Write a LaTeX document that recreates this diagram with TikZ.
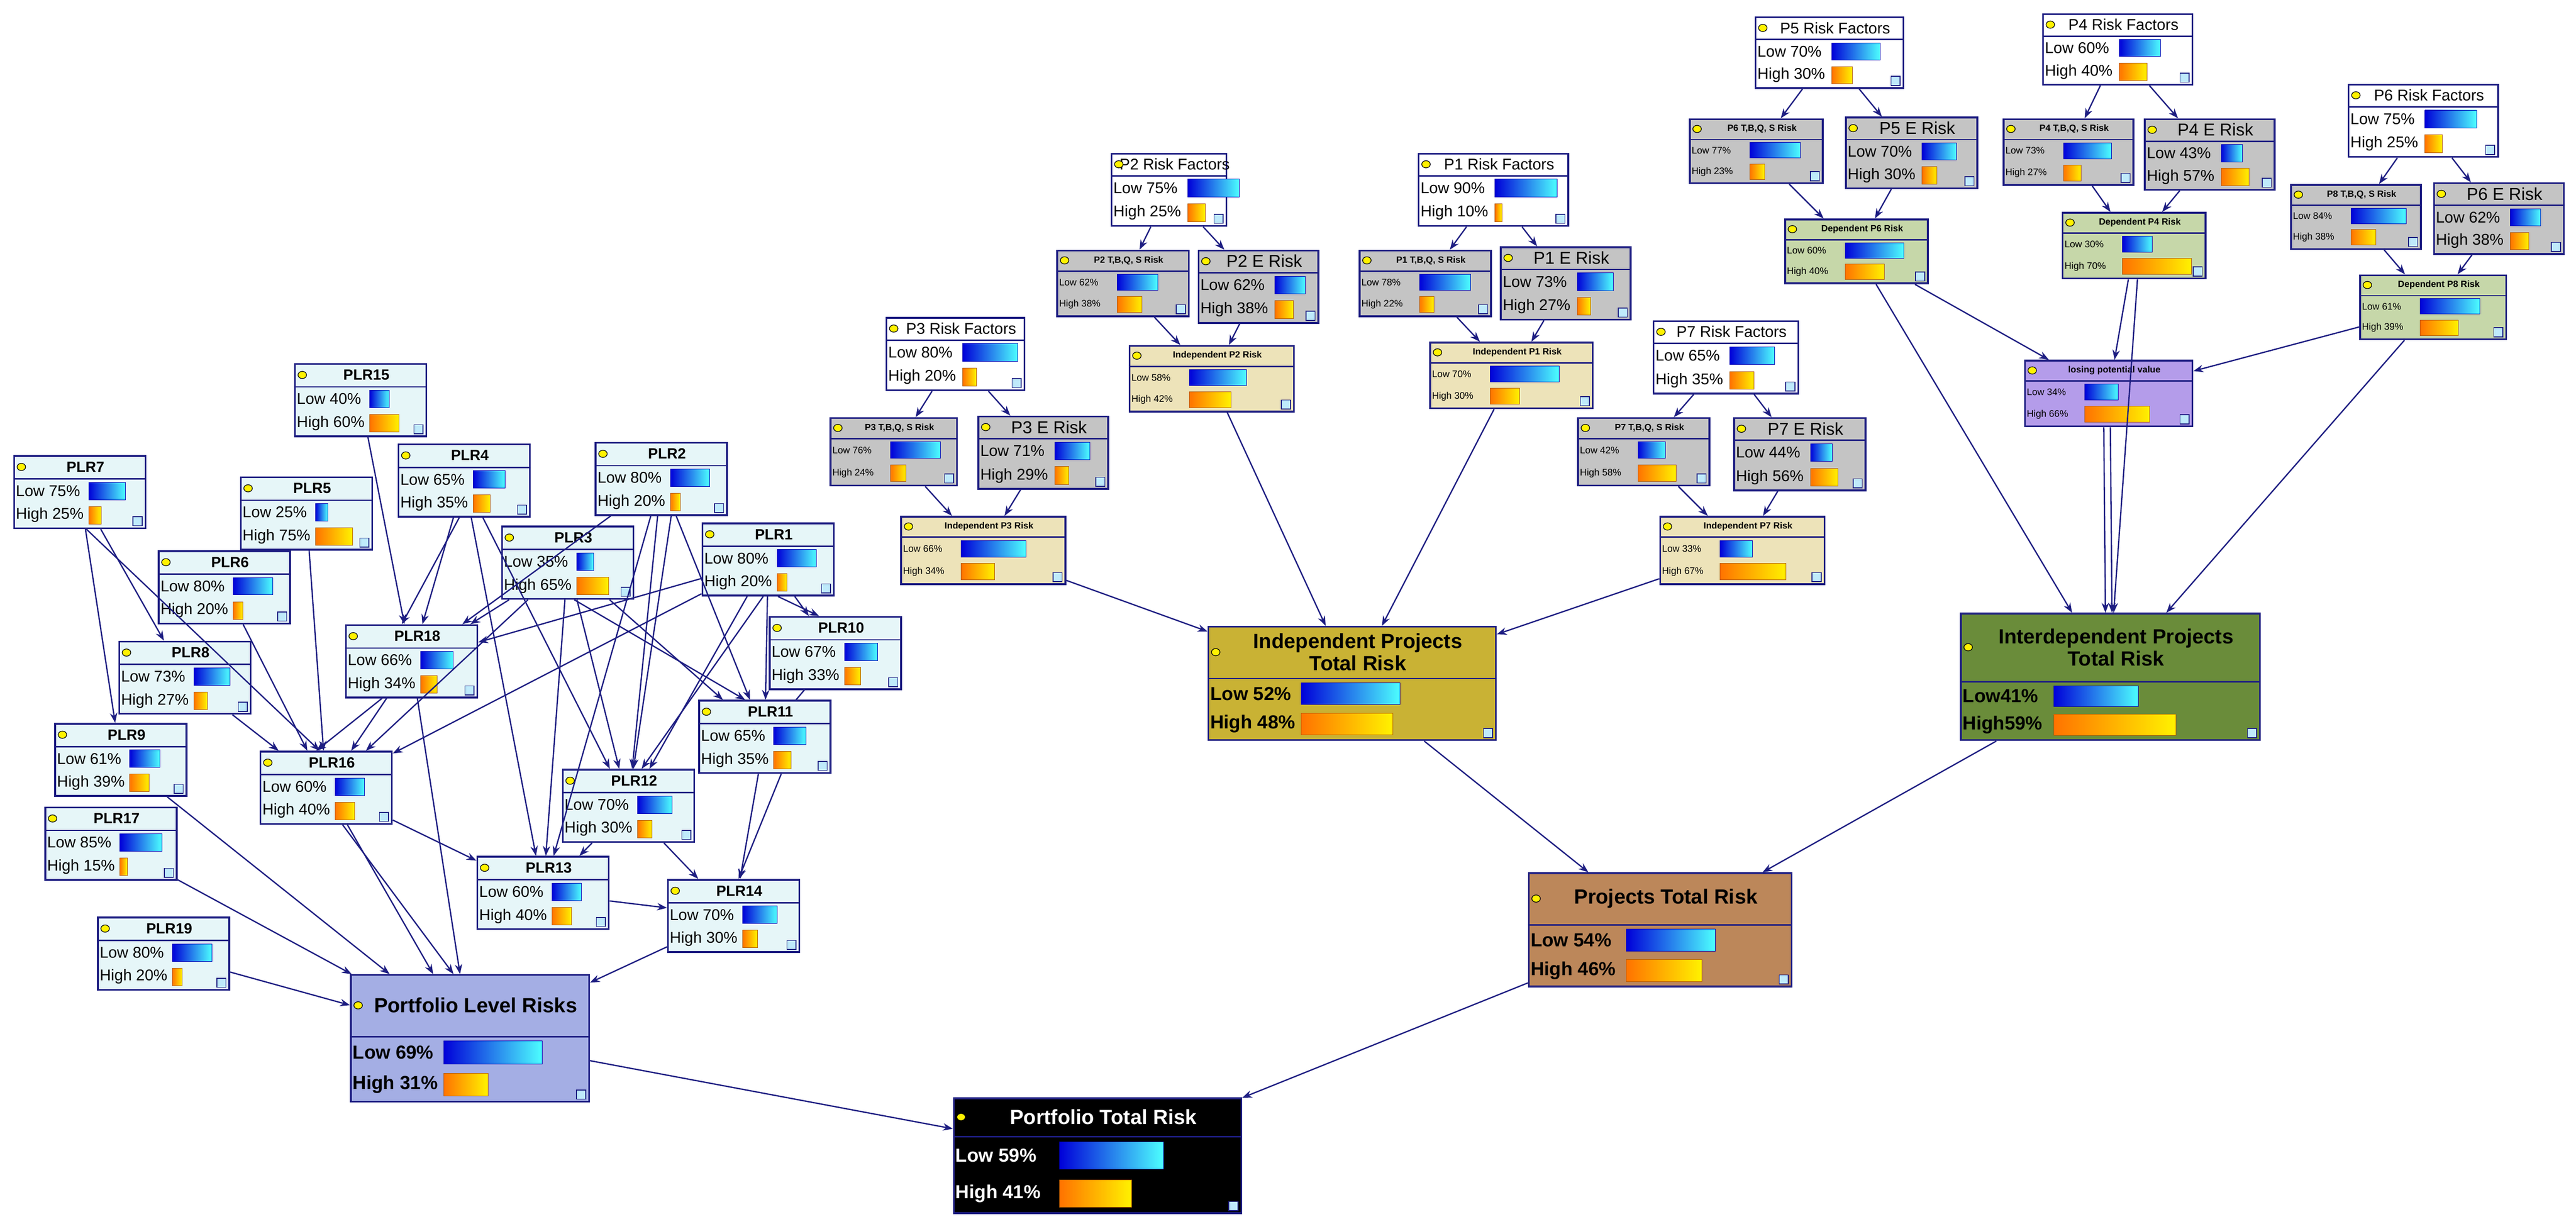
\documentclass[tikz,border=0pt]{standalone}
\usepackage{fontspec}
\setmainfont{Liberation Sans}
\usetikzlibrary{arrows.meta}
\definecolor{nv}{HTML}{1E1E82}
\definecolor{plrc}{HTML}{E6F6F8}
\definecolor{grc}{HTML}{C4C4C4}
\definecolor{bgc}{HTML}{EDE3B9}
\definecolor{dgc}{HTML}{C6D7A9}
\definecolor{puc}{HTML}{B49CEA}
\definecolor{plrb}{HTML}{A4AEE4}
\definecolor{goldc}{HTML}{C9B234}
\definecolor{grnc}{HTML}{6A8C3A}
\definecolor{brc}{HTML}{BC875A}
\tikzset{
 box/.style={draw=nv,line width=1.1pt,rectangle,inner sep=0pt},
 sep/.style={draw=nv,line width=0.9pt},
 arr/.style={draw=nv,line width=0.8pt,-{Stealth[length=6pt,width=4.5pt]}},
 ln/.style={draw=nv,line width=0.8pt},
 bbar/.style={left color=blue!85!black,right color=cyan!70!white,draw=blue!70!black,line width=0.3pt},
 obar/.style={left color=orange!90!red,right color=yellow!90!orange,draw=orange!70!black,line width=0.3pt}
}
\def\tc{black}\def\lo{Low }\def\hi{High }
\newcommand\setp[5]{\def\th{#1}\def\tf{#2}\def\lf{#3}\def\lw{#4}\def\bm{#5}}
\newcommand\plr{\setp{14.5}{\fontsize{9}{10}\selectfont\bfseries}{\fontsize{9.5}{10}\selectfont}{46}{30}}
\newcommand\rfp{\setp{14}{\fontsize{9.5}{10}\selectfont}{\fontsize{9.5}{10}\selectfont}{47}{42}}
\newcommand\tbq{\setp{13}{\fontsize{5.5}{6}\selectfont\bfseries}{\fontsize{5.8}{6}\selectfont}{37}{40}}
\newcommand\erp{\setp{14}{\fontsize{10.5}{11}\selectfont}{\fontsize{9.5}{10}\selectfont}{47}{30}}
\newcommand\ind{\setp{13}{\fontsize{5.5}{6}\selectfont\bfseries}{\fontsize{5.8}{6}\selectfont}{37}{60}}
% name x y w h fill title low high
\newcommand\bn[9]{%
 \node[box,fill=#6,minimum width=#4pt,minimum height=#5pt,anchor=north west] (#1) at (#2,#3) {};
 \pgfmathsetmacro\ya{#3+\th}%
 \pgfmathsetmacro\rh{(#5-\th)/2}%
 \pgfmathsetmacro\ra{\ya+\rh/2}%
 \pgfmathsetmacro\rb{\ya+1.5*\rh}%
 \pgfmathsetmacro\bh{\rh*0.36}%
 \draw[sep] (#2,\ya) -- (#2+#4,\ya);
 \node[font=\tf,text=\tc,align=center,inner sep=0pt] at (#2+#4/2+4,#3+\th/2) {#7};
 \fill[yellow,draw=black,line width=0.4pt] (#2+5,#3+\th/2) ellipse (2.6pt and 2.2pt);
 \node[font=\lf,text=\tc,anchor=west,inner sep=0pt] at (#2+1.5,\ra) {\lo#8\%};
 \node[font=\lf,text=\tc,anchor=west,inner sep=0pt] at (#2+1.5,\rb) {\hi#9\%};
 \path[bbar] (#2+\lw,\ra-\bh) rectangle (#2+\lw+\bm*#8/100,\ra+\bh);
 \path[obar] (#2+\lw,\rb-\bh) rectangle (#2+\lw+\bm*#9/100,\rb+\bh);
 \draw[nv,fill=cyan!25,line width=0.5pt] (#2+#4-7,#3+#5-6.5) rectangle (#2+#4-1.5,#3+#5-1);
}
\begin{document}
\begin{tikzpicture}[x=1pt,y=-1pt]
\useasboundingbox[fill=white] (0,0) rectangle (1568,745);
% ---------- PLR cluster
\plr
\bn{plr15}{179}{221}{80}{44}{plrc}{PLR15}{40}{60}
\bn{plr7}{8}{277}{80}{44}{plrc}{PLR7}{75}{25}
\bn{plr5}{146}{290}{80}{44}{plrc}{PLR5}{25}{75}
\bn{plr4}{242}{270}{80}{44}{plrc}{PLR4}{65}{35}
\bn{plr2}{362}{269}{80}{44}{plrc}{PLR2}{80}{20}
\bn{plr3}{305}{320}{80}{44}{plrc}{PLR3}{35}{65}
\bn{plr1}{427}{318}{80}{44}{plrc}{PLR1}{80}{20}
\bn{plr6}{96}{335}{80}{44}{plrc}{PLR6}{80}{20}
\bn{plr10}{468}{375}{80}{44}{plrc}{PLR10}{67}{33}
\bn{plr18}{210}{380}{80}{44}{plrc}{PLR18}{66}{34}
\bn{plr8}{72}{390}{80}{44}{plrc}{PLR8}{73}{27}
\bn{plr9}{33}{440}{80}{44}{plrc}{PLR9}{61}{39}
\bn{plr11}{425}{426}{80}{44}{plrc}{PLR11}{65}{35}
\bn{plr16}{158}{457}{80}{44}{plrc}{PLR16}{60}{40}
\bn{plr12}{342}{468}{80}{44}{plrc}{PLR12}{70}{30}
\bn{plr17}{27}{491}{80}{44}{plrc}{PLR17}{85}{15}
\bn{plr13}{290}{521}{80}{44}{plrc}{PLR13}{60}{40}
\bn{plr14}{406}{535}{80}{44}{plrc}{PLR14}{70}{30}
\bn{plr19}{59}{558}{80}{44}{plrc}{PLR19}{80}{20}
\setp{38}{\fontsize{12.5}{13}\selectfont\bfseries}{\fontsize{11.5}{12}\selectfont\bfseries}{57}{87}
\bn{plrr}{213}{593}{145}{77}{plrb}{Portfolio Level Risks}{69}{31}
% ---------- independent projects
\rfp
\bn{p2rf}{676}{93}{70}{44}{white}{P2 Risk Factors}{75}{25}
\bn{p1rf}{863}{93}{91}{44}{white}{P1 Risk Factors}{90}{10}
\bn{p3rf}{539}{193}{84}{44}{white}{P3 Risk Factors}{80}{20}
\bn{p7rf}{1006}{195}{88}{44}{white}{P7 Risk Factors}{65}{35}
\tbq
\bn{p2t}{643}{152}{80}{40}{grc}{P2 T,B,Q, S Risk}{62}{38}
\bn{p1t}{827}{152}{80}{40}{grc}{P1 T,B,Q, S Risk}{78}{22}
\bn{p3t}{505}{254}{77}{41}{grc}{P3 T,B,Q, S Risk}{76}{24}
\bn{p7t}{960}{254}{80}{41}{grc}{P7 T,B,Q, S Risk}{42}{58}
\erp
\bn{p2e}{729}{152}{73}{44}{grc}{P2 E Risk}{62}{38}
\bn{p1e}{913}{150}{79}{44}{grc}{P1 E Risk}{73}{27}
\bn{p3e}{595}{253}{79}{44}{grc}{P3 E Risk}{71}{29}
\bn{p7e}{1055}{254}{80}{44}{grc}{P7 E Risk}{44}{56}
\ind
\bn{ip2}{687}{210}{100}{40}{bgc}{Independent P2 Risk}{58}{42}
\bn{ip1}{870}{208}{99}{40}{bgc}{Independent P1 Risk}{70}{30}
\bn{ip3}{548}{314}{100}{41}{bgc}{Independent P3 Risk}{66}{34}
\bn{ip7}{1010}{314}{100}{41}{bgc}{Independent P7 Risk}{33}{67}
\setp{32}{\fontsize{12.5}{13.5}\selectfont\bfseries}{\fontsize{11.5}{12}\selectfont\bfseries}{57}{116}
\bn{ipt}{735}{381}{175}{69}{goldc}{Independent Projects\\Total Risk}{52}{48}
% ---------- dependent projects
\rfp
\bn{p5rf}{1068}{10}{90}{43}{white}{P5 Risk Factors}{70}{30}
\bn{p4rf}{1243}{8}{91}{43}{white}{P4 Risk Factors}{60}{40}
\bn{p6rf}{1429}{51}{91}{44}{white}{P6 Risk Factors}{75}{25}
\tbq
\bn{p5t}{1028}{72}{81}{39}{grc}{P6 T,B,Q, S Risk}{77}{23}
\bn{p4t}{1219}{72}{79}{40}{grc}{P4 T,B,Q, S Risk}{73}{27}
\bn{p8t}{1394}{112}{79}{39}{grc}{P8 T,B,Q, S Risk}{84}{38}
\erp
\bn{p5e}{1123}{71}{80}{43}{grc}{P5 E Risk}{70}{30}
\bn{p4e}{1305}{72}{79}{43}{grc}{P4 E Risk}{43}{57}
\bn{p6e}{1481}{111}{79}{43}{grc}{P6 E Risk}{62}{38}
\ind
\bn{dp6}{1086}{133}{87}{39}{dgc}{Dependent P6 Risk}{60}{40}
\bn{dp4}{1255}{129}{87}{40}{dgc}{Dependent P4 Risk}{30}{70}
\bn{dp8}{1436}{167}{89}{39}{dgc}{Dependent P8 Risk}{61}{39}
\bn{lpv}{1232}{219}{102}{40}{puc}{losing potential value}{34}{66}
\setp{42}{\fontsize{12.5}{13.5}\selectfont\bfseries}{\fontsize{11.5}{12}\selectfont\bfseries}{57}{126}
\def\lo{Low}\def\hi{High}
\bn{inter}{1193}{373}{182}{77}{grnc}{Interdependent Projects\\Total Risk}{41}{59}
\def\lo{Low }\def\hi{High }
\setp{32}{\fontsize{12.5}{13}\selectfont\bfseries}{\fontsize{11.5}{12}\selectfont\bfseries}{60}{100}
\bn{ptr}{930}{531}{160}{69}{brc}{Projects Total Risk}{54}{46}
\def\tc{white}
\setp{24}{\fontsize{12.5}{13}\selectfont\bfseries}{\fontsize{11.5}{12}\selectfont\bfseries}{65}{107}
\bn{pft}{580}{668}{175}{70}{black}{Portfolio Total Risk}{59}{41}
\def\tc{black}
% ---------- PLR edges
\draw[arr] (plr15) -- (plr18);
\draw[arr] (plr7) -- (plr9);
\draw[arr] (plr7) -- (plr8);
\draw[arr] ([xshift=4pt]plr7.south) -- ([xshift=-4pt]plr16.north);
\draw[arr] (plr5) -- (plr16);
\draw[arr] (plr6) -- (plr16);
\draw[arr] (plr8) -- (plr16);
\draw[arr] ([xshift=-3pt]plr4.south) -- ([xshift=-6pt]plr18.north);
\draw[arr] (plr4) -- (plr18);
\draw[arr] (plr4) -- (plr13);
\draw[arr] (plr4) -- (plr12);
\draw[arr] (plr2) -- (plr18);
\draw[arr] (plr2) -- (plr12);
\draw[arr] ([xshift=6pt]plr2.south) -- ([xshift=3pt]plr12.north);
\draw[arr] (plr2) -- (plr11);
\draw[arr] (plr2) -- (plr13);
\draw[arr] (plr3) -- (plr18);
\draw[arr] (plr3) -- (plr16);
\draw[arr] (plr3) -- (plr13);
\draw[arr] (plr3) -- (plr12);
\draw[arr] (plr3) -- (plr11);
\draw[arr] ([xshift=4pt]plr3.south) -- ([xshift=-12pt]plr11.north);
\draw[arr] (plr1) -- (plr18);
\draw[arr] (plr1) -- (plr16);
\draw[arr] (plr1) -- (plr10);
\draw[arr] ([xshift=6pt]plr1.south) -- ([xshift=-10pt]plr10.north);
\draw[arr] (plr1) -- (plr11);
\draw[arr] (plr1) -- (plr12);
\draw[arr] ([xshift=-3pt]plr1.south) -- ([xshift=8pt]plr12.north);
\draw[ln] (plr10) -- (plr11);
\draw[arr] (plr18) -- (plr16);
\draw[arr] ([xshift=-18pt]plr18.south) -- ([xshift=-6pt]plr16.north);
\draw[arr] (plr18) -- (plrr);
\draw[arr] (plr16) -- (plr13);
\draw[arr] (plr16) -- (plrr);
\draw[arr] ([xshift=10pt]plr16.south) -- ([xshift=-10pt]plrr.north);
\draw[arr] (plr9) -- (plrr);
\draw[arr] (plr17) -- (plrr);
\draw[arr] (plr19) -- (plrr);
\draw[arr] (plr12) -- (plr13);
\draw[arr] (plr12) -- (plr14);
\draw[arr] (plr13) -- (plr14);
\draw[arr] (plr11) -- (plr14);
\draw[arr] ([xshift=10pt]plr11.south) -- ([xshift=3pt]plr14.north);
\draw[arr] (plr14) -- (plrr);
% ---------- project edges
\foreach \p in {1,2,3,7}{
 \draw[arr] (p\p rf) -- (p\p t);
 \draw[arr] (p\p rf) -- (p\p e);
 \draw[arr] (p\p t) -- (ip\p);
 \draw[arr] (p\p e) -- (ip\p);
 \draw[arr] (ip\p) -- (ipt);
}
\draw[arr] (p5rf) -- (p5t); \draw[arr] (p5rf) -- (p5e);
\draw[arr] (p5t) -- (dp6); \draw[arr] (p5e) -- (dp6);
\draw[arr] (p4rf) -- (p4t); \draw[arr] (p4rf) -- (p4e);
\draw[arr] (p4t) -- (dp4); \draw[arr] (p4e) -- (dp4);
\draw[arr] (p6rf) -- (p8t); \draw[arr] (p6rf) -- (p6e);
\draw[arr] (p8t) -- (dp8); \draw[arr] (p6e) -- (dp8);
\draw[arr] (dp6) -- (lpv);
\draw[arr] (dp4) -- (lpv);
\draw[arr] (dp8) -- (lpv);
\draw[arr] (dp6) -- (inter);
\draw[arr] ([xshift=2pt]dp4.south) -- ([xshift=2pt]inter.north);
\draw[arr] ([xshift=-3pt]lpv.south) -- ([xshift=-3pt]inter.north);
\draw[arr] ([xshift=1pt]lpv.south) -- ([xshift=1pt]inter.north);
\draw[arr] (dp8) -- (inter);
\draw[arr] (ipt) -- (ptr);
\draw[arr] (inter) -- (ptr);
\draw[arr] (ptr) -- (pft);
\draw[arr] (plrr) -- (pft);
\end{tikzpicture}
\end{document}
